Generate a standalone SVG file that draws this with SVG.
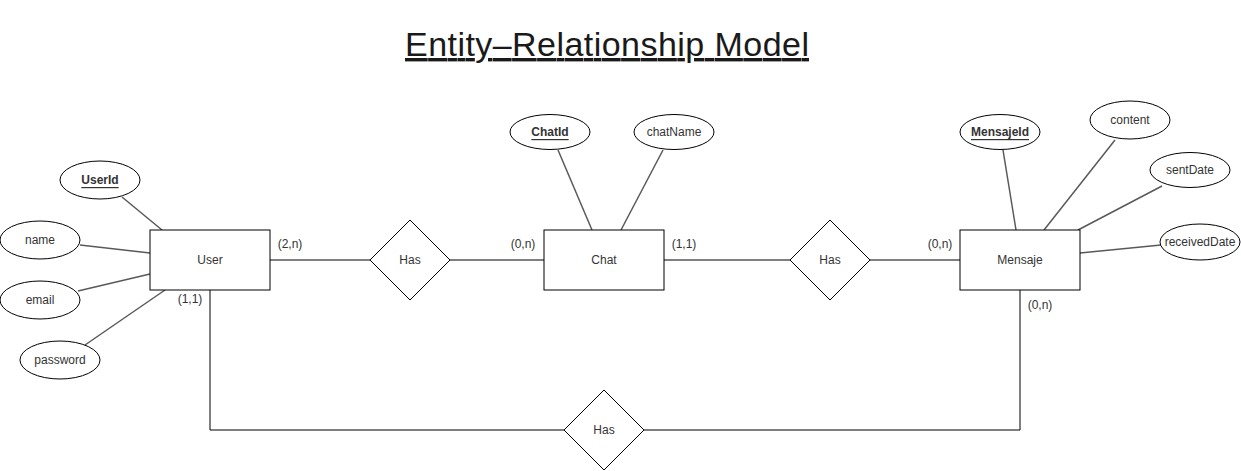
<svg xmlns="http://www.w3.org/2000/svg" width="1241" height="471" viewBox="0 0 1241 471">
<style>
text{font-family:"Liberation Sans",Arial,sans-serif;font-size:12px;fill:#333;text-anchor:middle;dominant-baseline:central}
.shape{fill:#fff;stroke:#000;stroke-width:1}
.attr{stroke:#595959;stroke-width:1.5;fill:none}
.conn{stroke:#000;stroke-width:1;fill:none}
.key{font-weight:bold;text-decoration:underline}
.title{font-size:34px;fill:#1a1a1a;text-decoration:underline;dominant-baseline:auto}
</style>
<rect width="1241" height="471" fill="#fff"/>
<text class="title" x="607" y="56" textLength="404" lengthAdjust="spacing">Entity–Relationship Model</text>
<g id="connectors">
<line class="attr" x1="122" y1="197" x2="162" y2="230"/>
<line class="attr" x1="80" y1="245" x2="150" y2="253"/>
<line class="attr" x1="78" y1="291" x2="150" y2="274"/>
<line class="attr" x1="85" y1="345" x2="165" y2="290"/>
<line class="attr" x1="558" y1="150" x2="592" y2="230"/>
<line class="attr" x1="663" y1="150" x2="621" y2="230"/>
<line class="attr" x1="1003" y1="150" x2="1016" y2="230"/>
<line class="attr" x1="1115" y1="140" x2="1044" y2="230"/>
<line class="attr" x1="1162" y1="186" x2="1078" y2="230"/>
<line class="attr" x1="1161" y1="245" x2="1080" y2="253"/>
<path class="conn" d="M270 260H370"/>
<path class="conn" d="M450 260H544"/>
<path class="conn" d="M664 260H790"/>
<path class="conn" d="M870 260H960"/>
<path class="conn" d="M210 290V430H564"/>
<path class="conn" d="M644 430H1020V290"/>
<text x="290" y="244">(2,n)</text>
<text x="190" y="299">(1,1)</text>
<text x="523" y="244">(0,n)</text>
<text x="684" y="244">(1,1)</text>
<text x="940" y="244">(0,n)</text>
<text x="1040" y="305">(0,n)</text>
</g>
<g id="User"><rect class="shape" x="150" y="230" width="120" height="60"/><text x="210" y="260">User</text></g>
<g id="Chat"><rect class="shape" x="544" y="230" width="120" height="60"/><text x="604" y="260">Chat</text></g>
<g id="Mensaje"><rect class="shape" x="960" y="230" width="120" height="60"/><text x="1020" y="260">Mensaje</text></g>
<g id="Has1"><path class="shape" d="M410 220L450 260L410 300L370 260Z"/><text x="410" y="260">Has</text></g>
<g id="Has2"><path class="shape" d="M830 220L870 260L830 300L790 260Z"/><text x="830" y="260">Has</text></g>
<g id="Has3"><path class="shape" d="M604 390L644 430L604 470L564 430Z"/><text x="604" y="430">Has</text></g>
<g id="UserId"><ellipse class="shape" cx="100" cy="180" rx="40" ry="19"/><text class="key" x="100" y="180">UserId</text></g>
<g id="name"><ellipse class="shape" cx="40" cy="240" rx="40" ry="19"/><text x="40" y="240">name</text></g>
<g id="email"><ellipse class="shape" cx="40" cy="300" rx="40" ry="19"/><text x="40" y="300">email</text></g>
<g id="password"><ellipse class="shape" cx="60" cy="360" rx="40" ry="19"/><text x="60" y="360">password</text></g>
<g id="ChatId"><ellipse class="shape" cx="550" cy="132" rx="40" ry="17.5"/><text class="key" x="550" y="132">ChatId</text></g>
<g id="chatName"><ellipse class="shape" cx="674" cy="132" rx="40" ry="17.5"/><text x="674" y="132">chatName</text></g>
<g id="MensajeId"><ellipse class="shape" cx="1000" cy="132" rx="40" ry="17.5"/><text class="key" x="1000" y="132">MensajeId</text></g>
<g id="content"><ellipse class="shape" cx="1130" cy="120" rx="40" ry="19"/><text x="1130" y="120">content</text></g>
<g id="sentDate"><ellipse class="shape" cx="1190" cy="170" rx="40" ry="17.5"/><text x="1190" y="170">sentDate</text></g>
<g id="receivedDate"><ellipse class="shape" cx="1200" cy="242" rx="40" ry="18"/><text x="1200" y="242">receivedDate</text></g>
</svg>
